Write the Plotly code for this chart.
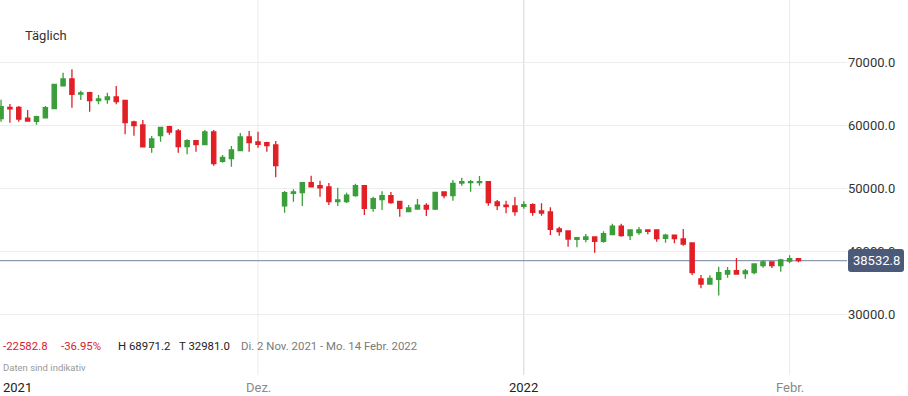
import pandas as pd
import plotly.graph_objects as go

# ---- data -------------------------------------------------------------
dates_all = pd.date_range("2021-11-02", "2022-02-02", freq="D")
missing = {"2021-12-25", "2022-01-01"}
dates = [d.strftime("%Y-%m-%d") for d in dates_all if d.strftime("%Y-%m-%d") not in missing]

opens = [61115.6, 62900, 62900, 61200, 60680, 61250, 62690, 66300, 67410, 65000,
         65230, 63960, 64120, 64550, 64020, 60570, 60100, 56550, 58390, 59820,
         59140, 56640, 57600, 56960, 58980, 54320, 54740, 56010, 58190, 57390,
         57280, 56920, 47220, 49240, 49330, 50920, 50440, 50240, 47900, 47900,
         48850, 50440, 46850, 48220, 48850, 47960, 46310, 46740, 47320, 46740,
         49440, 48850, 50870, 50920, 50920, 51080, 47850, 47370, 47220, 47160,
         47420, 46420, 46260, 43560, 43240, 41920, 41920, 42290, 41600, 42650,
         44030, 42490, 42970, 43400, 43400, 42080, 42600, 41970, 41330, 35610,
         34810, 35560, 36400, 36930, 36450, 36610, 37720, 38310, 37720, 38470,
         38840]
highs = [64100, 63430, 63100, 62480, 61570, 63100, 66600, 68410, 68971.2, 65550,
         65400, 64860, 65230, 66300, 64100, 60780, 60890, 58350, 59800, 59980,
         59460, 57820, 57710, 59300, 59300, 55320, 56760, 58820, 59140, 59030,
         57440, 57550, 49600, 49870, 50950, 52030, 51240, 50870, 50130, 49330,
         50760, 50470, 48690, 49550, 49440, 48020, 47370, 48330, 47640, 49400,
         49500, 51350, 51720, 51350, 51980, 51100, 48170, 48060, 48650, 47960,
         47640, 47640, 47010, 43920, 43300, 42290, 42760, 42320, 43190, 44400,
         44400, 43450, 43880, 43450, 43450, 42810, 42650, 43560, 41400, 36240,
         36200, 37560, 37520, 38950, 37190, 38040, 38630, 38350, 38840, 39380,
         38950]
lows = [60600, 60460, 60600, 60650, 60140, 61150, 62600, 66250, 62850, 64070,
        62210, 63390, 63480, 63390, 58610, 58390, 56500, 55690, 57440, 58550,
        55690, 55440, 55850, 56900, 53620, 54100, 53460, 55960, 55850, 56490,
        55850, 51780, 46150, 47900, 47220, 50200, 48690, 47370, 47220, 47700,
        48690, 45780, 46310, 46580, 47580, 45510, 46250, 46700, 45630, 46580,
        48440, 48060, 50440, 49490, 50440, 47260, 46580, 46050, 45670, 46790,
        45670, 45670, 42600, 42490, 40740, 40650, 41440, 39790, 41380, 42550,
        42330, 41810, 42650, 42720, 41540, 41380, 41290, 40900, 36240, 34130,
        34750, 32981.0, 35810, 36350, 35660, 36350, 37400, 37360, 36770, 38100,
        38260]
closes = [63000, 62650, 61050, 60730, 61410, 62850, 66560, 67410, 64970, 65180,
          63960, 64230, 64550, 63800, 60460, 59980, 56600, 57870, 59730, 58980,
          56640, 57600, 56960, 58980, 53940, 54960, 56120, 58190, 57280, 57030,
          56800, 53620, 49330, 49440, 50920, 50240, 50120, 47900, 48170, 48960,
          50440, 46850, 48380, 48850, 47740, 46850, 46900, 47370, 46740, 49390,
          48850, 50820, 51080, 51080, 51080, 47740, 47260, 47100, 46310, 47420,
          46210, 46100, 43510, 43130, 41970, 42180, 42290, 41600, 42810, 44030,
          42490, 43400, 43400, 43190, 42020, 42600, 42020, 41170, 36610, 34810,
          35720, 36610, 36930, 36400, 36880, 37990, 38310, 37720, 38630, 38840,
          38532.8]

y_ticks = [30000, 40000, 50000, 60000, 70000]
x_tick_dates = ["2021-12-01", "2022-01-02", "2022-02-01"]
x_tick_labels = ["Dez.", "2022", "Febr."]
last_price = closes[-1]
stats = ["-22582.8", "-36.95%", "H 68971.2", "T 32981.0",
         "Di. 2 Nov. 2021 - Mo. 14 Febr. 2022"]

# ---- figure -----------------------------------------------------------
W, H = 908, 396
ML, MR, MT, MB = 0, 61, 0, 21
PW, PH = W - ML - MR, H - MT - MB
FONT = "Roboto, Inter, Arial, sans-serif"
GREEN, RED = "#3a9e3a", "#e21f26"


def px_x(px):
    return px / PW


def px_y(py):
    return 1 - py / PH


fig = go.Figure(go.Candlestick(
    x=dates, open=opens, high=highs, low=lows, close=closes,
    increasing=dict(line=dict(color=GREEN, width=1.3), fillcolor=GREEN),
    decreasing=dict(line=dict(color=RED, width=1.3), fillcolor=RED),
    whiskerwidth=0, showlegend=False,
))

shapes = []
for d, c in zip(x_tick_dates, ["#ececec", "#d4d4d4", "#ececec"]):
    shapes.append(dict(type="line", xref="x", yref="paper", x0=d, x1=d, y0=0, y1=1,
                       line=dict(color=c, width=1), layer="below"))
shapes.append(dict(type="line", xref="paper", yref="y", x0=0, x1=1,
                   y0=last_price, y1=last_price,
                   line=dict(color="#8f9bb0", width=1.2), layer="below"))
# rounded price tag
x0, x1 = px_x(848), px_x(904)
y1, y0 = px_y(249), px_y(272)
rx, ry = 3 / PW, 3 / PH
path = (f"M {x0+rx},{y1} L {x1-rx},{y1} Q {x1},{y1} {x1},{y1-ry} "
        f"L {x1},{y0+ry} Q {x1},{y0} {x1-rx},{y0} L {x0+rx},{y0} "
        f"Q {x0},{y0} {x0},{y0+ry} L {x0},{y1-ry} Q {x0},{y1} {x0+rx},{y1} Z")
shapes.append(dict(type="path", xref="paper", yref="paper", path=path,
                   fillcolor="#4b5a79", line=dict(width=0), layer="above"))

ann = []
ann.append(dict(text="Täglich", xref="paper", yref="paper", x=px_x(23), y=px_y(35),
                xanchor="left", yanchor="middle", showarrow=False,
                font=dict(family=FONT, size=13, color="#333333")))
stat_x = [1, 59, 116, 177, 239]
stat_c = ["#d9232b", "#d9232b", "#222222", "#222222", "#7a7a7a"]
for t, xx, cc in zip(stats, stat_x, stat_c):
    ann.append(dict(text=t, xref="paper", yref="paper", x=px_x(xx), y=px_y(346),
                    xanchor="left", yanchor="middle", showarrow=False,
                    font=dict(family=FONT, size=11.4, color=cc)))
ann.append(dict(text="Daten sind indikativ", xref="paper", yref="paper", x=px_x(1),
                y=px_y(367), xanchor="left", yanchor="middle", showarrow=False,
                font=dict(family=FONT, size=9.5, color="#999999")))
ann.append(dict(text="2021", xref="paper", yref="paper", x=px_x(1), y=px_y(387),
                xanchor="left", yanchor="middle", showarrow=False,
                font=dict(family=FONT, size=13, color="#222222")))
for d, t in zip(x_tick_dates, x_tick_labels):
    ann.append(dict(text=t, xref="x", yref="paper", x=d, y=px_y(387),
                    xanchor="center", yanchor="middle", showarrow=False,
                    font=dict(family=FONT, size=13,
                              color="#222222" if t == "2022" else "#8a8a8a")))
ann.append(dict(text=f"{last_price:.1f}", xref="paper", yref="paper",
                x=(x0 + x1) / 2, y=(y0 + y1) / 2, xanchor="center", yanchor="middle",
                showarrow=False, font=dict(family=FONT, size=13, color="#ffffff")))

fig.update_layout(
    width=W, height=H, margin=dict(l=ML, r=MR, t=MT, b=MB),
    paper_bgcolor="white", plot_bgcolor="white",
    boxgap=0.32,
    shapes=shapes, annotations=ann,
    xaxis=dict(type="category", range=[-0.12, 95.48], showgrid=False,
               showticklabels=False, zeroline=False, showline=False,
               rangeslider=dict(visible=False), fixedrange=True),
    yaxis=dict(side="right", range=[20344, 79969], tickvals=y_ticks,
               tickformat=".1f", gridcolor="#ececec", gridwidth=1,
               zeroline=False, showline=False, ticks="",
               tickfont=dict(family=FONT, size=13, color="#333333"),
               fixedrange=True),
    hovermode=False,
)

fig.write_html("out.html")
